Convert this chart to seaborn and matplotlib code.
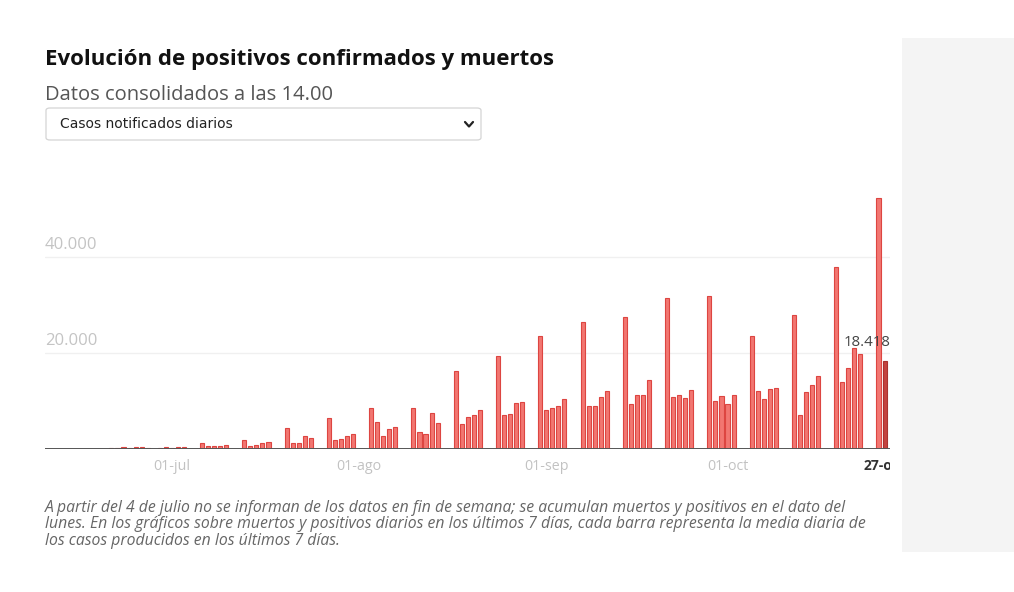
import matplotlib
matplotlib.use("Agg")
import matplotlib.pyplot as plt
from matplotlib.patches import Rectangle, FancyBboxPatch
from matplotlib.lines import Line2D
import seaborn as sns
import pandas as pd
import numpy as np

# ---------------- data ----------------
dates = [
    "2020-06-21", "2020-06-22", "2020-06-23", "2020-06-24", "2020-06-25", "2020-06-26",
    "2020-06-27", "2020-06-28", "2020-06-29", "2020-06-30", "2020-07-01", "2020-07-02", "2020-07-03",
    "2020-07-06", "2020-07-07", "2020-07-08", "2020-07-09", "2020-07-10",
    "2020-07-13", "2020-07-14", "2020-07-15", "2020-07-16", "2020-07-17",
    "2020-07-20", "2020-07-21", "2020-07-22", "2020-07-23", "2020-07-24",
    "2020-07-27", "2020-07-28", "2020-07-29", "2020-07-30", "2020-07-31",
    "2020-08-03", "2020-08-04", "2020-08-05", "2020-08-06", "2020-08-07",
    "2020-08-10", "2020-08-11", "2020-08-12", "2020-08-13", "2020-08-14",
    "2020-08-17", "2020-08-18", "2020-08-19", "2020-08-20", "2020-08-21",
    "2020-08-24", "2020-08-25", "2020-08-26", "2020-08-27", "2020-08-28",
    "2020-08-31", "2020-09-01", "2020-09-02", "2020-09-03", "2020-09-04",
    "2020-09-07", "2020-09-08", "2020-09-09", "2020-09-10", "2020-09-11",
    "2020-09-14", "2020-09-15", "2020-09-16", "2020-09-17", "2020-09-18",
    "2020-09-21", "2020-09-22", "2020-09-23", "2020-09-24", "2020-09-25",
    "2020-09-28", "2020-09-29", "2020-09-30", "2020-10-01", "2020-10-02",
    "2020-10-05", "2020-10-06", "2020-10-07", "2020-10-08", "2020-10-09",
    "2020-10-12", "2020-10-13", "2020-10-14", "2020-10-15", "2020-10-16",
    "2020-10-19", "2020-10-20", "2020-10-21", "2020-10-22", "2020-10-23",
    "2020-10-26", "2020-10-27",
]
cases = [
    150, 200, 330, 260, 320, 420,
    120, 100, 150, 380, 300, 370, 440,
    1250, 650, 700, 720, 800,
    1850, 600, 850, 1250, 1400,
    4440, 1250, 1300, 2700, 2220,
    6390, 1870, 2000, 2700, 3120,
    8480, 5690, 2780, 4100, 4510,
    8620, 3610, 3120, 7430, 5490,
    16269, 5114, 6671, 7039, 8148,
    19382, 7117, 7296, 9658, 9779,
    23572, 8115, 8581, 8959, 10476,
    26560, 8964, 8866, 10764, 12183,
    27404, 9437, 11193, 11291, 14389,
    31428, 10799, 11289, 10653, 12272,
    31785, 9906, 11016, 9419, 11325,
    23480, 11998, 10491, 12423, 12788,
    27856, 7118, 11970, 13318, 15186,
    37889, 13873, 16973, 20986, 19851,
    52188, 18418,
]
tick_dates = ["2020-07-01", "2020-08-01", "2020-09-01", "2020-10-01"]
tick_labels = ["01-jul", "01-ago", "01-sep", "01-oct"]
last_label = "27-oct"
y_ticks = [20000, 40000]
y_tick_labels = ["20.000", "40.000"]

title = "Evolución de positivos confirmados y muertos"
subtitle = "Datos consolidados a las 14.00"
dropdown = "Casos notificados diarios"
note = ("A partir del 4 de julio no se informan de los datos en fin de semana; se acumulan muertos y positivos en el dato del\n"
        "lunes. En los gráficos sobre muertos y positivos diarios en los últimos 7 días, cada barra representa la media diaria de\n"
        "los casos producidos en los últimos 7 días.")

# ---------------- frame ----------------
origin = pd.Timestamp("2020-07-01")
day = (pd.to_datetime(dates) - origin).days.astype(float)
df = pd.DataFrame({"day": day, "cases": cases})
df["last"] = ["no"] * (len(df) - 1) + ["yes"]

sns.set_theme(style="white")
plt.rcParams["font.family"] = ["Open Sans", "DejaVu Sans"]

W, H = 1014, 592
fig = plt.figure(figsize=(W / 100, H / 100), dpi=100)
fig.patch.set_facecolor("white")

def fx(px):
    return px / W

def fy(py):
    return 1 - py / H

# right grey panel
fig.patches.append(Rectangle((fx(902), fy(552)), fx(1014 - 902), (552 - 38) / H,
                             transform=fig.transFigure, facecolor="#f4f4f4", edgecolor="none", zorder=0))

ax_left, ax_right, ax_bottom, ax_top = 45, 890, 449, 185
ax = fig.add_axes([fx(ax_left), fy(ax_bottom), fx(ax_right - ax_left), (ax_bottom - ax_top) / H])
ax.set_facecolor("none")

sns.barplot(data=df, x="day", y="cases", hue="last", native_scale=True, width=0.68,
            palette={"no": "#f27671", "yes": "#c4433f"}, saturation=1, edgecolor="#dd4541",
            linewidth=0.8, legend=False, errorbar=None, dodge=False, ax=ax, zorder=3)
for p in ax.patches:
    if p.get_facecolor()[0] < 0.85:
        p.set_edgecolor("#a8322f")

x_min, x_max = -21.0, 118.9
ax.set_xlim(x_min, x_max)
ax.set_ylim(0, 55000)
for s in ax.spines.values():
    s.set_visible(False)
ax.set_xlabel("")
ax.set_ylabel("")
ax.set_yticks([])
tick_pos = (pd.to_datetime(tick_dates) - origin).days
ax.set_xticks(tick_pos)
ax.set_xticklabels(tick_labels, color="#c2c2c2", fontsize=10.3)
ax.tick_params(axis="x", length=0, pad=7)

# gridlines and y labels
for v, lab in zip(y_ticks, y_tick_labels):
    ax.axhline(v, color="#f0f0f0", lw=1, zorder=1)
    ax.text(x_min, v + 900, lab, color="#c4c4c4", fontsize=12, ha="left", va="bottom", zorder=2)
ax.axhline(0, color="#555555", lw=1.4, zorder=4)

# last label clipped at the chart edge
last_day = (pd.Timestamp("2020-10-27") - origin).days
t = ax.text(last_day, -0.036, last_label, transform=ax.get_xaxis_transform(), ha="center", va="top",
            fontsize=10, fontweight="bold", color="#333333", clip_on=True)
clip = Rectangle((0, 0), fx(ax_right), 1, transform=fig.transFigure, facecolor="none", edgecolor="none")
fig.patches.append(clip)
t.set_clip_path(clip)

ax.text(x_max, 22200, f"{cases[-1]:,}".replace(",", "."), ha="right", va="center",
        fontsize=10.8, color="#444444", zorder=5)

# header texts
fig.text(fx(45), fy(60), title, fontsize=16, fontweight="bold", color="#111111", ha="left", va="center")
fig.text(fx(45), fy(95), subtitle, fontsize=14.5, color="#555555", ha="left", va="center")

box = FancyBboxPatch((fx(46), fy(140)), fx(481 - 46), (140 - 108) / H,
                     boxstyle="round,pad=0,rounding_size=0.004", transform=fig.transFigure,
                     facecolor="white", edgecolor="#d4d4d4", linewidth=0.9)
fig.patches.append(box)
fig.text(fx(60), fy(124.5), dropdown, fontsize=10, color="#222222", ha="left", va="center",
         family=["DejaVu Sans"])
fig.lines.append(Line2D([fx(465), fx(469), fx(473)], [fy(122), fy(126.5), fy(122)],
                        transform=fig.transFigure, color="#222222", lw=1.6, solid_capstyle="round"))

fig.text(fx(45), fy(500), note, fontsize=11.3, style="italic", color="#666666", ha="left", va="top",
         linespacing=1.04)

fig.savefig("out.png", dpi=100)
